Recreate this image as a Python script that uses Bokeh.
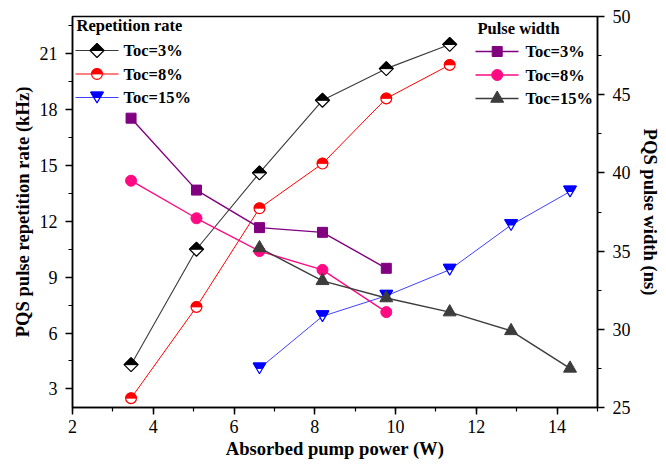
import numpy as np
from bokeh.plotting import figure
from bokeh.models import Range1d, LinearAxis, SingleIntervalTicker
from bokeh.core.properties import value
from bokeh.embed import file_html
from bokeh.resources import INLINE

# ---------------- data ----------------
power_rep_3 = [3.45, 5.07, 6.63, 8.19, 9.77, 11.34]
rate_toc3 = [4.3, 10.5, 14.6, 18.5, 20.2, 21.5]
power_rep_8 = [3.45, 5.07, 6.63, 8.19, 9.77, 11.34]
rate_toc8 = [2.5, 7.4, 12.7, 15.1, 18.6, 20.4]
power_rep_15 = [6.63, 8.19, 9.77, 11.34, 12.86, 14.32]
rate_toc15 = [4.1, 6.9, 8.0, 9.4, 11.8, 13.6]

power_pw_3 = [3.45, 5.07, 6.63, 8.19, 9.77]
width_toc3 = [43.5, 38.9, 36.5, 36.2, 33.9]
power_pw_8 = [3.45, 5.07, 6.63, 8.19, 9.77]
width_toc8 = [39.5, 37.1, 35.0, 33.8, 31.1]
power_pw_15 = [6.63, 8.19, 9.77, 11.34, 12.86, 14.32]
width_toc15 = [35.2, 33.1, 32.0, 31.1, 29.9, 27.5]

series_labels = ["Toc=3%", "Toc=8%", "Toc=15%"]
legend_titles = ["Repetition rate", "Pulse width"]

# ---------------- layout / style ----------------
W, H = 666, 464
FL, FR, FT, FB = 72, 597, 16, 407
X0, X1 = 2, 15
YL0, YL1 = 2, 23
YR0, YR1 = 25, 50
SERIF = "Liberation Serif"

FW, FH = FR - FL, FB - FT
ux = (X1 - X0) / FW
uyL = (YL1 - YL0) / FH
uyR = (YR1 - YR0) / FH

C_R3, L_R3 = "#000000", "#3a3a3a"
C_R8 = "#ff0000"
C_R15, L_R15 = "#0000ff", "#4040ff"
C_P3 = "#800080"
C_P8 = "#ff0a82"
C_P15 = "#3c3c3c"

p = figure(width=W, height=H, title=None, x_range=Range1d(X0, X1), y_range=Range1d(YL0, YL1),
           output_backend="svg", toolbar_location=None,
           min_border_left=FL, min_border_right=W - FR, min_border_top=FT, min_border_bottom=H - FB,
           background_fill_color="white", border_fill_color="white")
p.extra_y_ranges = {"pw": Range1d(YR0, YR1), "cy": Range1d(H - FB, H - FT)}
p.extra_x_ranges = {"cx": Range1d(FL, FR)}

p.xgrid.visible = False
p.ygrid.visible = False
p.outline_line_color = "black"
p.outline_line_width = 1.5
p.outline_line_alpha = 1.0

p.xaxis.ticker = SingleIntervalTicker(interval=2, num_minor_ticks=2)
p.yaxis.ticker = SingleIntervalTicker(interval=3, num_minor_ticks=2)
p.xaxis.axis_label = "Absorbed pump power (W)"
p.yaxis.axis_label = "PQS pulse repetition rate (kHz)"
right = LinearAxis(y_range_name="pw", axis_label="PQS pulse width (ns)",
                   ticker=SingleIntervalTicker(interval=5, num_minor_ticks=2))
p.add_layout(right, "right")

for ax in [p.xaxis[0], p.yaxis[0], right]:
    ax.axis_line_color = "black"
    ax.axis_line_width = 1.5
    ax.major_tick_line_color = "black"
    ax.major_tick_line_width = 1.5
    ax.minor_tick_line_color = "black"
    ax.minor_tick_line_width = 1.2
    ax.major_tick_in = 0
    ax.major_tick_out = 7
    ax.minor_tick_in = 0
    ax.minor_tick_out = 4
    ax.major_label_text_font = SERIF
    ax.major_label_text_font_size = "18px"
    ax.major_label_text_color = "black"
    ax.axis_label_text_font = SERIF
    ax.axis_label_text_font_style = "bold"
    ax.axis_label_text_color = "black"
    ax.axis_label_text_font_size = "18.6px"
p.xaxis.major_label_standoff = 5
p.yaxis.major_label_standoff = 8
right.major_label_standoff = 8
p.xaxis.axis_label_standoff = 2
p.yaxis.axis_label_standoff = 4
right.axis_label_standoff = 6


# ---------------- helpers for half-filled markers ----------------
def draw_half_diamond(xs, ys, color, d, ux_, uy_, **rng):
    fx, fy, tx, ty = [], [], [], []
    for x, y in zip(xs, ys):
        fx.append([x - d * ux_, x, x + d * ux_, x])
        fy.append([y, y + d * uy_, y, y - d * uy_])
        tx.append([x - d * ux_, x, x + d * ux_])
        ty.append([y, y + d * uy_, y])
    p.patches(fx, fy, fill_color="white", line_color=color, line_width=1.2, **rng)
    p.patches(tx, ty, fill_color=color, line_color=color, line_width=1.0, **rng)


def draw_half_circle(xs, ys, color, r, **rng):
    p.scatter(xs, ys, marker="circle", size=2 * r, fill_color="white",
              line_color=color, line_width=1.2, **rng)
    p.wedge(x=xs, y=ys, radius=r, radius_units="screen", start_angle=0, end_angle=np.pi,
            fill_color=color, line_color=color, line_width=0.8, **rng)


def draw_half_down_triangle(xs, ys, color, a, h, ux_, uy_, **rng):
    fx, fy, tx, ty = [], [], [], []
    for x, y in zip(xs, ys):
        fx.append([x - a * ux_, x + a * ux_, x])
        fy.append([y + h / 2 * uy_, y + h / 2 * uy_, y - h / 2 * uy_])
        tx.append([x - a * ux_, x + a * ux_, x + a / 2 * ux_, x - a / 2 * ux_])
        ty.append([y + h / 2 * uy_, y + h / 2 * uy_, y, y])
    p.patches(fx, fy, fill_color="white", line_color=color, line_width=1.2, **rng)
    p.patches(tx, ty, fill_color=color, line_color=color, line_width=1.0, **rng)


DIAM = 7.0
CIRC_R = 5.4
TRI_A, TRI_H = 6.3, 10.8
SQ = 10
PCIRC = 11
PTRI = 13

# ---------------- lines ----------------
p.line(power_rep_3, rate_toc3, line_color=L_R3, line_width=1.1)
p.line(power_rep_8, rate_toc8, line_color=C_R8, line_width=1.0)
p.line(power_rep_15, rate_toc15, line_color=L_R15, line_width=1.0)
p.line(power_pw_3, width_toc3, line_color=C_P3, line_width=1.4, y_range_name="pw")
p.line(power_pw_8, width_toc8, line_color=C_P8, line_width=1.4, y_range_name="pw")
p.line(power_pw_15, width_toc15, line_color=C_P15, line_width=1.4, y_range_name="pw")

# ---------------- markers ----------------
draw_half_diamond(power_rep_3, rate_toc3, C_R3, DIAM, ux, uyL)
draw_half_circle(power_rep_8, rate_toc8, C_R8, CIRC_R)
draw_half_down_triangle(power_rep_15, rate_toc15, C_R15, TRI_A, TRI_H, ux, uyL)
p.scatter(power_pw_3, width_toc3, marker="square", size=SQ, fill_color=C_P3, line_color=C_P3, y_range_name="pw")
p.scatter(power_pw_8, width_toc8, marker="circle", size=PCIRC, fill_color=C_P8, line_color=C_P8, y_range_name="pw")
p.scatter(power_pw_15, width_toc15, marker="triangle", size=PTRI, fill_color=C_P15, line_color=C_P15, y_range_name="pw")

# ---------------- legends (placed in canvas pixel space) ----------------
CR = dict(x_range_name="cx", y_range_name="cy")


def cy(v):
    return H - v


def legend_text(xs, ys, texts, size):
    p.text(x=xs, y=[cy(v) for v in ys], text=texts, text_font=value(SERIF),
           text_font_style="bold", text_font_size=value(size), text_color="black",
           text_baseline="middle", text_align="left", **CR)


# left legend: repetition rate
L_LINE0, L_LINE1, L_MARK, L_TEXT = 75, 118, 96.5, 123
L_TITLE_X, L_TITLE_Y = 76, 25
L_ROW0, ROW_STEP = 50, 23.5
l_rows = [L_ROW0 + i * ROW_STEP for i in range(3)]
legend_text([L_TITLE_X], [L_TITLE_Y], [legend_titles[0]], "16.5px")
rep_line_colors = [L_R3, C_R8, L_R15]
for i, col in enumerate(rep_line_colors):
    p.segment(x0=[L_LINE0], y0=[cy(l_rows[i])], x1=[L_LINE1], y1=[cy(l_rows[i])],
              line_color=col, line_width=1.1, **CR)
draw_half_diamond([L_MARK], [cy(l_rows[0])], C_R3, DIAM, 1, 1, **CR)
draw_half_circle([L_MARK], [cy(l_rows[1])], C_R8, CIRC_R, **CR)
draw_half_down_triangle([L_MARK], [cy(l_rows[2])], C_R15, TRI_A, TRI_H, 1, 1, **CR)
legend_text([L_TEXT] * 3, l_rows, series_labels, "16.5px")

# right legend: pulse width
R_LINE0, R_LINE1, R_MARK, R_TEXT = 475, 518, 496.7, 525
R_TITLE_X, R_TITLE_Y = 477, 27.5
R_ROW0 = 51
r_rows = [R_ROW0 + i * ROW_STEP for i in range(3)]
legend_text([R_TITLE_X], [R_TITLE_Y], [legend_titles[1]], "16.5px")
pw_colors = [C_P3, C_P8, C_P15]
pw_markers = ["square", "circle", "triangle"]
pw_sizes = [SQ, PCIRC, PTRI]
for i, col in enumerate(pw_colors):
    p.segment(x0=[R_LINE0], y0=[cy(r_rows[i])], x1=[R_LINE1], y1=[cy(r_rows[i])],
              line_color=col, line_width=1.4, **CR)
    p.scatter([R_MARK], [cy(r_rows[i])], marker=pw_markers[i], size=pw_sizes[i],
              fill_color=col, line_color=col, **CR)
legend_text([R_TEXT] * 3, r_rows, series_labels, "16.5px")

open("out.html", "w").write(file_html(p, INLINE))
